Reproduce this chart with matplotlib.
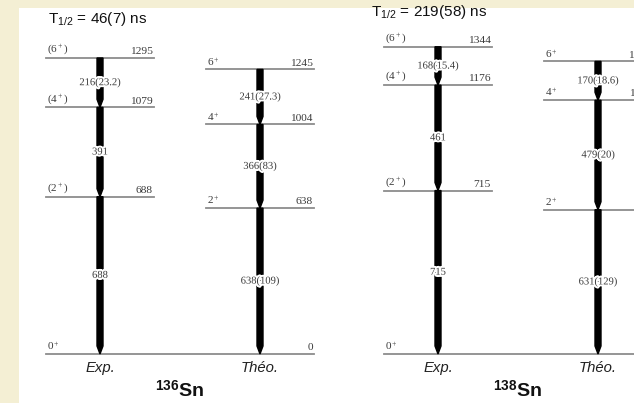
import matplotlib.pyplot as plt
import matplotlib.patheffects as pe
from matplotlib.patches import Rectangle

plt.rcParams['mathtext.fontset'] = 'custom'
plt.rcParams['mathtext.rm'] = 'Liberation Serif'
plt.rcParams['mathtext.it'] = 'Liberation Serif:italic'
plt.rcParams['mathtext.sf'] = 'Liberation Sans'
plt.rcParams['mathtext.bf'] = 'Liberation Sans:bold'

# level schemes (energies in keV, top to bottom)
sn136_exp_spins = ['(6$^+$)', '(4$^+$)', '(2$^+$)', '0$^+$']
sn136_exp_energies = [1295, 1079, 688, 0]
sn136_exp_gammas = ['216(23.2)', '391', '688']
sn136_theo_spins = ['6$^+$', '4$^+$', '2$^+$', '']
sn136_theo_energies = [1245, 1004, 638, 0]
sn136_theo_gammas = ['241(27.3)', '366(83)', '638(109)']

sn138_exp_spins = ['(6$^+$)', '(4$^+$)', '(2$^+$)', '0$^+$']
sn138_exp_energies = [1344, 1176, 715, 0]
sn138_exp_gammas = ['168(15.4)', '461', '715']
sn138_theo_spins = ['6$^+$', '4$^+$', '2$^+$', '']
sn138_theo_energies = [1280, 1110, 631, 0]
sn138_theo_gammas = ['170(18.6)', '479(20)', '631(129)']

half_lives = ['T$_{\\mathsf{1/2}}$ = 46(7) ns', 'T$_{\\mathsf{1/2}}$ = 219(58) ns']
nuclei = ['$^{\\mathbf{136}}$Sn', '$^{\\mathbf{138}}$Sn']

fig = plt.figure(figsize=(6.34, 4.03), dpi=100)
fig.patch.set_facecolor('#f4efd4')
ax = fig.add_axes([0, 0, 1, 1])
ax.set_facecolor('none')
ax.set_xlim(0, 634)
scale = 0.2286  # px per keV
ax.set_ylim((354 - 403) / scale, 354 / scale)
ax.axis('off')
ax.add_patch(Rectangle((19 / 634, 0), 1, 1 - 8 / 403, transform=ax.transAxes,
                       facecolor='white', edgecolor='none', zorder=0))

line_col = '#8c8c8c'
txt_col = '#3a3a3a'
half_w = 54


def draw_column(xc, spins, energies, gammas, show_ground_energy):
    for spin, e in zip(spins[:-1], energies[:-1]):
        ax.plot([xc - half_w, xc + half_w], [e, e], color=line_col, lw=1.3, zorder=1)
        ax.text(xc - half_w + 1, e + 8, spin, fontsize=8, family='Liberation Serif',
                color=txt_col, ha='left', va='bottom')
        ax.text(xc + half_w - 1, e + 8, str(e), fontsize=8.2, family='Liberation Serif',
                color=txt_col, ha='right', va='bottom')
    if spins[-1]:
        ax.text(xc - half_w + 1, energies[-1] + 8, spins[-1], fontsize=8,
                family='Liberation Serif', color=txt_col, ha='left', va='bottom')
    if show_ground_energy:
        ax.text(xc + half_w - 1, energies[-1] + 8, str(energies[-1]), fontsize=8.2,
                family='Liberation Serif', color=txt_col, ha='right', va='bottom')
    for g, e_hi, e_lo in zip(gammas, energies[:-1], energies[1:]):
        ax.arrow(xc, e_hi, 0, e_lo - e_hi, width=6, head_width=6, head_length=35,
                 length_includes_head=True, color='black', zorder=2)
        ax.text(xc, (e_hi + e_lo) / 2, g, fontsize=7.6, family='Liberation Serif',
                color=txt_col, ha='center', va='center', zorder=3,
                path_effects=[pe.withStroke(linewidth=2.8, foreground='white')])


schemes = [
    (100, sn136_exp_spins, sn136_exp_energies, sn136_exp_gammas,
     sn136_theo_spins, sn136_theo_energies, sn136_theo_gammas),
    (438, sn138_exp_spins, sn138_exp_energies, sn138_exp_gammas,
     sn138_theo_spins, sn138_theo_energies, sn138_theo_gammas),
]
title_pos = [(98, 19), (429, 12)]

for i, (x0, es, ee, eg, ts, te, tg) in enumerate(schemes):
    xt = x0 + 160
    draw_column(x0, es, ee, eg, False)
    draw_column(xt, ts, te, tg, True)
    ax.plot([x0 - half_w, xt + half_w], [0, 0], color=line_col, lw=1.3, zorder=1)
    ax.text(x0, -62, 'Exp.', fontsize=10.7, style='italic', family='Liberation Sans',
            ha='center', va='center', color='#222')
    ax.text(xt, -62, 'Théo.', fontsize=10.7, style='italic', family='Liberation Sans',
            ha='center', va='center', color='#222')
    ax.text(x0 + 80, -158, nuclei[i], fontsize=14, fontweight='bold',
            family='Liberation Sans', ha='center', va='center', color='#111')
    tx, ty = title_pos[i]
    ax.text(tx, (354 - ty) / scale, half_lives[i], fontsize=11,
            family='Liberation Sans', ha='center', va='center', color='#111')

fig.savefig('out.png', dpi=100)
